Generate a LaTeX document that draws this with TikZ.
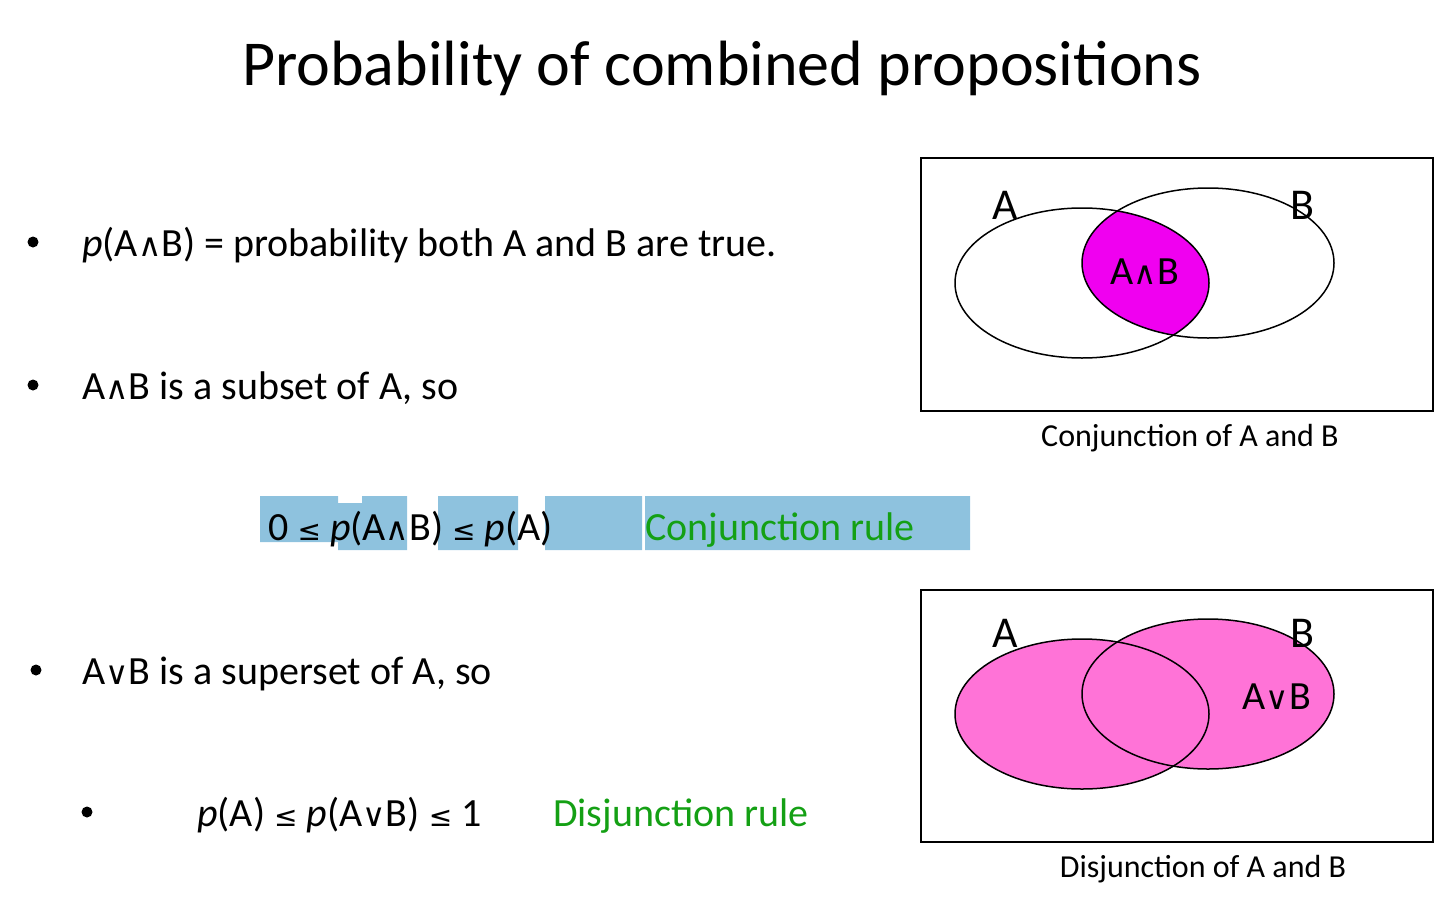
\documentclass[tikz,border=0pt]{standalone}
\usepackage{fontspec}
\setmainfont{Carlito}
\newfontfamily\symf{DejaVu Sans}
\newcommand{\wa}{{\symf\scalebox{0.8}{∧}}}
\newcommand{\wo}{{\symf\scalebox{0.8}{∨}}}
\newcommand{\mylq}{{\symf\scalebox{0.7}{≤}}}
\definecolor{hl}{RGB}{142,194,222}
\definecolor{grn}{RGB}{20,160,20}
\definecolor{mag}{RGB}{240,0,240}
\definecolor{pnk}{RGB}{255,115,215}
\begin{document}
\begin{tikzpicture}[x=1pt,y=-1pt,
  txt/.style={anchor=base west,inner sep=0,font=\fontsize{40}{48}\selectfont},
  captxt/.style={anchor=base,inner sep=0,font=\fontsize{32}{38}\selectfont},
  lab/.style={inner sep=0,font=\fontsize{44}{50}\selectfont},
  dot/.style={circle,fill=black,inner sep=0,minimum size=11pt}]
\useasboundingbox (0,0) rectangle (1440,910);
\node[inner sep=0,font=\fontsize{64}{70}\selectfont] (title) at (722,68) {Probability of combined propositions};
\node[dot] (d1) at (33,242) {};
\node[txt] (t1) at (82,256) {\textit{p}(A\wa B) = probability both A and B are true.};
\node[dot] (d2) at (33,385) {};
\node[txt] (t2) at (82,399) {A\wa B is a subset of A, so};
\fill[hl] (260,496) rectangle (338,542) (338,503) rectangle (362,550) (362,496) rectangle (407,550)
 (438,496) rectangle (518,550) (545,496) rectangle (642,550) (645,496) rectangle (970,550);
\node[txt] (t3) at (268,540) {0 \mylq\ \textit{p}(A\wa B) \mylq\ \textit{p}(A)};
\node[txt,text=grn] (t3b) at (645,540) {Conjunction rule};
\node[dot] (d3) at (36,670) {};
\node[txt] (t4) at (82,684) {A\wo B is a superset of A, so};
\node[dot] (d4) at (87,812) {};
\node[txt] (t5) at (197,826) {\textit{p}(A) \mylq\ \textit{p}(A\wo B) \mylq\ 1};
\node[txt,text=grn] (t5b) at (553,826) {Disjunction rule};
% box 1
\draw[line width=1.5pt] (921,158) rectangle (1433,411);
\begin{scope}
\clip (1082,283) ellipse [x radius=127,y radius=75];
\fill[mag] (1208,263) ellipse [x radius=126,y radius=75];
\end{scope}
\draw[line width=1.5pt] (1082,283) ellipse [x radius=127,y radius=75];
\draw[line width=1.5pt] (1208,263) ellipse [x radius=126,y radius=75];
\node[lab] (la1) at (1005,205) {A};
\node[lab] (lb1) at (1302,205) {B};
\node[inner sep=0,font=\fontsize{40}{46}\selectfont] (lab1) at (1145,272) {A\wa B};
\node[captxt] (c1) at (1190,446) {Conjunction of A and B};
% box 2
\draw[line width=1.5pt] (921,590) rectangle (1433,842);
\fill[pnk] (1082,714) ellipse [x radius=127,y radius=75];
\fill[pnk] (1208,694) ellipse [x radius=126,y radius=75];
\draw[line width=1.5pt] (1082,714) ellipse [x radius=127,y radius=75];
\draw[line width=1.5pt] (1208,694) ellipse [x radius=126,y radius=75];
\node[lab] (la2) at (1005,633) {A};
\node[lab] (lb2) at (1302,633) {B};
\node[inner sep=0,font=\fontsize{40}{46}\selectfont] (lab2) at (1277,697) {A\wo B};
\node[captxt] (c2) at (1203,877) {Disjunction of A and B};
\end{tikzpicture}
\end{document}
